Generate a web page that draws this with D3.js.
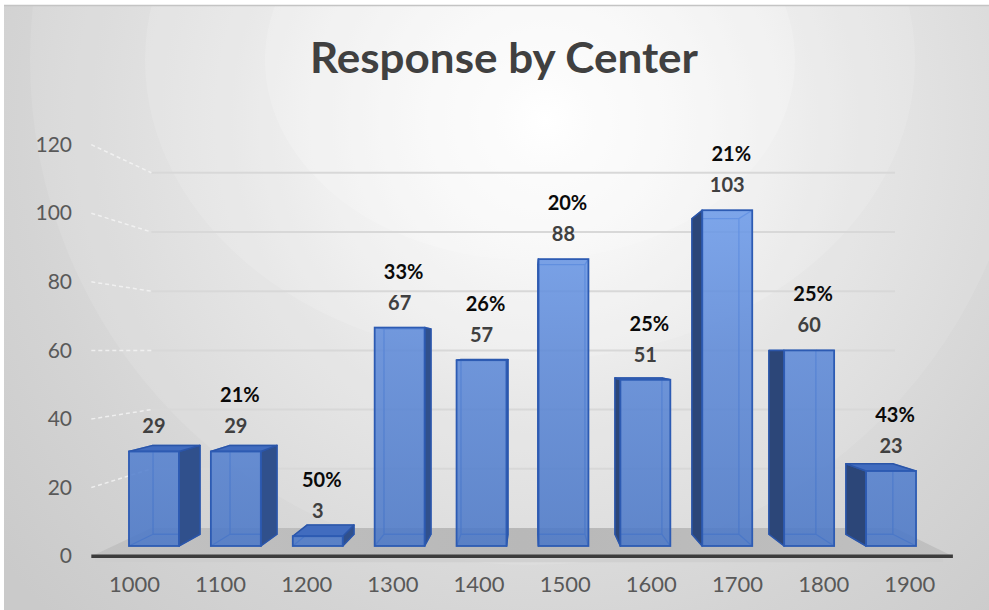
<!DOCTYPE html>
<html>
<head>
<meta charset="utf-8">
<script src="https://cdn.jsdelivr.net/npm/d3@7"></script>
<style>
  html, body { margin: 0; padding: 0; background: #ffffff; }
  svg { display: block; }
  text { font-family: Lato, "Open Sans", "Noto Sans", sans-serif; }
</style>
</head>
<body>
<svg id="chart" width="989" height="610"></svg>
<script>
// ---- data ----
const categories = ["1000", "1100", "1200", "1300", "1400", "1500", "1600", "1700", "1800", "1900"];
const responses  = [29, 29, 3, 67, 57, 88, 51, 103, 60, 23];
const rates      = [null, 21, 50, 33, 26, 20, 25, 21, 25, 43];   // percent labels shown above bars
const yTicks     = [0, 20, 40, 60, 80, 100, 120];
const chartTitle = "Response by Center";

// ---- layout ----
const W = 989, H = 610;
const svg = d3.select("#chart");

// World scales live on the plane of the bar front faces.
const x = d3.scaleBand().domain(categories).range([113, 932])
  .paddingInner(0.39).paddingOuter(0.195);
const y = d3.scaleLinear().domain([0, 120]).range([546, 154.8]);

// Simple one-point perspective: everything shrinks toward the eye point.
const cx = 530, cy = y(60);
const S_AXIS = 1.052;   // front edge of the floor / axis labels
const S_BARBACK = 0.94; // back faces of the columns
const S_WALL = 0.908;   // back wall
const proj = (px, py, s) => [cx + (px - cx) * s, cy + (py - cy) * s];

const rows = categories.map((c, i) => ({ cat: c, value: responses[i], rate: rates[i] }));

// ---- defs ----
const defs = svg.append("defs");
const bg = defs.append("radialGradient").attr("id", "bgGrad")
  .attr("gradientUnits", "userSpaceOnUse")
  .attr("cx", 545).attr("cy", 120).attr("r", 700);
[[0, "#ffffff"], [0.22, "#f3f3f3"], [0.45, "#e3e3e3"], [0.75, "#d4d4d4"], [1, "#cacaca"]]
  .forEach(([o, c]) => bg.append("stop").attr("offset", o).attr("stop-color", c));

const front = defs.append("linearGradient").attr("id", "barFront")
  .attr("gradientUnits", "userSpaceOnUse")
  .attr("x1", 0).attr("y1", 150).attr("x2", 0).attr("y2", 546);
[[0, "#70a0f0"], [0.5, "#5b88d8"], [1, "#4a77c7"]]
  .forEach(([o, c]) => front.append("stop").attr("offset", o).attr("stop-color", c));

const floorGrad = defs.append("linearGradient").attr("id", "floorGrad")
  .attr("x1", 0).attr("y1", 0).attr("x2", 1).attr("y2", 0);
[[0, "#c2c2c2"], [0.5, "#b8b8b8"], [1, "#c0c0c0"]]
  .forEach(([o, c]) => floorGrad.append("stop").attr("offset", o).attr("stop-color", c));

// ---- background ----
svg.append("rect").attr("width", W).attr("height", H).attr("fill", "url(#bgGrad)");
// soft concentric bands
const bands = svg.append("g").attr("fill", "#ffffff");
[[500, 505, 0.10], [385, 300, 0.13], [265, 200, 0.18]].forEach(([rx, ry, op]) => {
  bands.append("ellipse").attr("cx", 530).attr("cy", 60)
    .attr("rx", rx).attr("ry", ry).attr("fill-opacity", op);
});
// page edge
svg.append("rect").attr("x", 0).attr("y", 0).attr("width", W).attr("height", 5).attr("fill", "#ffffff");
svg.append("rect").attr("x", 0).attr("y", 0).attr("width", 4).attr("height", H).attr("fill", "#ffffff");
svg.append("line").attr("x1", 4).attr("x2", W).attr("y1", 5.5).attr("y2", 5.5)
  .attr("stroke", "#c4c4c4").attr("stroke-width", 1.5);

// ---- title ----
svg.append("text")
  .attr("x", 504).attr("y", 73)
  .attr("text-anchor", "middle")
  .attr("font-size", 42).attr("font-weight", 700)
  .attr("fill", "#404040")
  .attr("textLength", 388).attr("lengthAdjust", "spacingAndGlyphs")
  .text(chartTitle);

// ---- walls and floor ----
const [x0, x1] = x.range();
const floorPts = [
  proj(x0, y(0), S_AXIS), proj(x1, y(0), S_AXIS),
  proj(x1, y(0), S_WALL), proj(x0, y(0), S_WALL)
];
svg.append("polygon").attr("points", floorPts.map(p => p.join(",")).join(" "))
  .attr("fill", "url(#floorGrad)");

// back-wall gridlines
svg.append("g").selectAll("line").data(yTicks.filter(v => v > 0)).join("line")
  .each(function (v) {
    const a = proj(x0, y(v), S_WALL), b = proj(x1, y(v), S_WALL);
    d3.select(this).attr("x1", a[0]).attr("y1", a[1]).attr("x2", b[0]).attr("y2", b[1]);
  })
  .attr("stroke", "#d8d8d8").attr("stroke-width", 2);

// side-wall gridlines running from the axis labels back to the wall
svg.append("g").selectAll("line").data(yTicks.filter(v => v > 0)).join("line")
  .each(function (v) {
    const a = proj(x0, y(v), S_AXIS), b = proj(x0, y(v), S_WALL);
    d3.select(this).attr("x1", a[0]).attr("y1", a[1]).attr("x2", b[0]).attr("y2", b[1]);
  })
  .attr("stroke", "#f6f6f6").attr("stroke-width", 1.5)
  .attr("stroke-dasharray", "4,3").attr("opacity", 0.8);

// floor front edge
const fl = proj(x0, y(0), S_AXIS), fr = proj(x1, y(0), S_AXIS);
svg.append("line").attr("x1", fl[0] + 4).attr("x2", fr[0] - 10)
  .attr("y1", fl[1] + 4).attr("y2", fr[1] + 4)
  .attr("stroke", "#cdcdcd").attr("stroke-width", 4).attr("opacity", 0.7);
svg.append("line").attr("x1", fl[0]).attr("x2", fr[0])
  .attr("y1", fl[1]).attr("y2", fr[1])
  .attr("stroke", "#3c3c3c").attr("stroke-width", 3.5);

// ---- columns ----
const bars = svg.append("g");
rows.forEach(r => {
  const xl = x(r.cat), xr = xl + x.bandwidth();
  const yt = y(r.value), yb = y(0);
  const F = { lt: [xl, yt], rt: [xr, yt], rb: [xr, yb], lb: [xl, yb] };
  const B = {
    lt: proj(xl, yt, S_BARBACK), rt: proj(xr, yt, S_BARBACK),
    rb: proj(xr, yb, S_BARBACK), lb: proj(xl, yb, S_BARBACK)
  };
  const g = bars.append("g");
  const poly = pts => pts.map(p => p.join(",")).join(" ");

  // hidden edges of the box, seen through the translucent faces
  const hidden = g.append("g").attr("stroke", "#3f6fc8").attr("stroke-width", 1.3)
    .attr("fill", "none").attr("opacity", 0.9);
  hidden.append("polygon").attr("points", poly([B.lt, B.rt, B.rb, B.lb]));
  ["lt", "rt", "rb", "lb"].forEach(k => {
    hidden.append("line").attr("x1", F[k][0]).attr("y1", F[k][1])
      .attr("x2", B[k][0]).attr("y2", B[k][1]);
  });

  // side face
  const centre = (xl + xr) / 2;
  if (centre < cx) {
    g.append("polygon").attr("points", poly([F.rt, B.rt, B.rb, F.rb]))
      .attr("fill", "#30508c").attr("stroke", "#2b55a8").attr("stroke-width", 1.5)
      .attr("stroke-linejoin", "round");
  } else {
    g.append("polygon").attr("points", poly([F.lt, B.lt, B.lb, F.lb]))
      .attr("fill", "#2c4678").attr("stroke", "#2b55a8").attr("stroke-width", 1.5)
      .attr("stroke-linejoin", "round");
  }
  // top face when it sits below eye height
  if (yt > cy) {
    g.append("polygon").attr("points", poly([F.lt, F.rt, B.rt, B.lt]))
      .attr("fill", "#416cbf").attr("stroke", "#2b55a8").attr("stroke-width", 1.5)
      .attr("stroke-linejoin", "round");
  }
  // front face
  g.append("rect").attr("x", xl).attr("y", yt)
    .attr("width", xr - xl).attr("height", yb - yt)
    .attr("fill", "url(#barFront)").attr("fill-opacity", 0.86)
    .attr("stroke", "#2d5bb3").attr("stroke-width", 1.8);
});

// ---- data labels ----
const labels = svg.append("g").attr("text-anchor", "middle")
  .attr("font-weight", 700).attr("font-size", 20);
labels.selectAll("text.val").data(rows).join("text").attr("class", "val")
  .attr("x", d => x(d.cat) + x.bandwidth() / 2)
  .attr("y", d => y(d.value) - 26)
  .attr("dominant-baseline", "central")
  .attr("fill", "#404040")
  .text(d => d.value);
labels.selectAll("text.pct").data(rows.filter(d => d.rate !== null)).join("text").attr("class", "pct")
  .attr("x", d => x(d.cat) + x.bandwidth() / 2 + 4)
  .attr("y", d => y(d.value) - 57)
  .attr("dominant-baseline", "central")
  .attr("fill", "#0a0a0a")
  .text(d => d.rate + "%");

// ---- axes (projected onto the front edge of the floor) ----
const yAxisScale = d3.scaleLinear().domain(y.domain())
  .range(y.range().map(v => proj(0, v, S_AXIS)[1]));
const yAxis = svg.append("g").attr("transform", "translate(72,0)")
  .call(d3.axisLeft(yAxisScale).tickValues(yTicks).tickSize(0).tickPadding(0));
yAxis.select(".domain").remove();
yAxis.selectAll("text").attr("font-size", 21).attr("fill", "#595959")
  .attr("font-family", "Lato, 'Open Sans', sans-serif");

const xAxisScale = d3.scaleBand().domain(categories)
  .range(x.range().map(v => proj(v, 0, S_AXIS)[0]))
  .paddingInner(0.39).paddingOuter(0.195);
const xAxis = svg.append("g").attr("transform", "translate(0,576)")
  .call(d3.axisBottom(xAxisScale).tickSize(0).tickPadding(0));
xAxis.select(".domain").remove();
xAxis.selectAll("text").attr("font-size", 22).attr("fill", "#595959")
  .attr("font-family", "Lato, 'Open Sans', sans-serif");
</script>
</body>
</html>
